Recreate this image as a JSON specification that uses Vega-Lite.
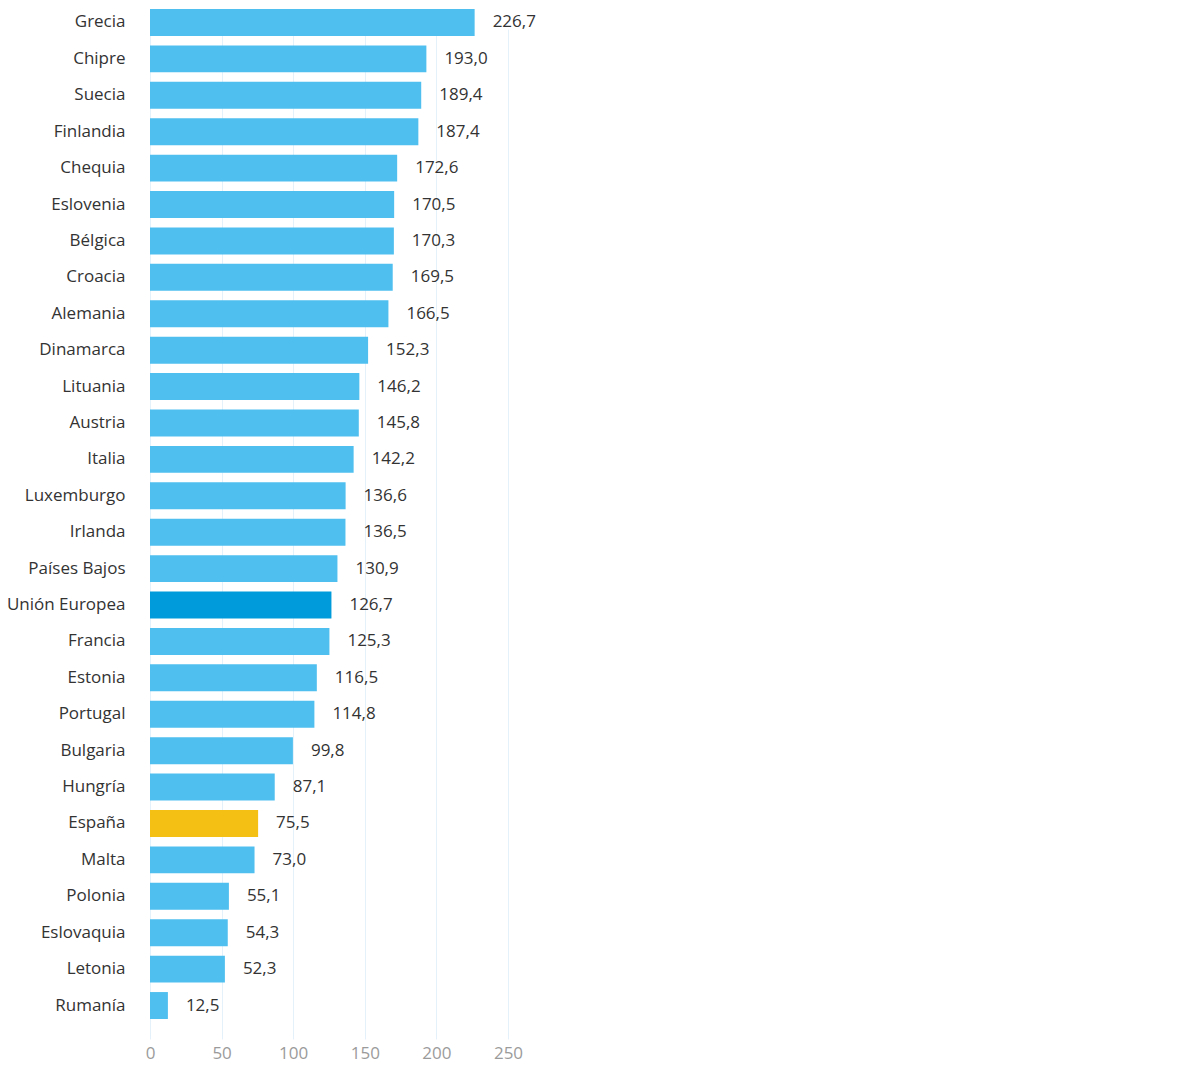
{
  "$schema": "https://vega.github.io/schema/vega-lite/v6.json",
  "width": 358,
  "height": 1030,
  "padding": {"left": 5, "top": 9, "right": 5, "bottom": 5},
  "background": "white",
  "config": {
    "view": {"stroke": null},
    "font": "Open Sans",
    "locale": {"number": {"decimal": ",", "thousands": ".", "grouping": [3], "currency": ["", " €"]}}
  },
  "data": {
    "values": [
      {"pais": "Grecia", "valor": 226.7, "grupo": "pais"},
      {"pais": "Chipre", "valor": 193.0, "grupo": "pais"},
      {"pais": "Suecia", "valor": 189.4, "grupo": "pais"},
      {"pais": "Finlandia", "valor": 187.4, "grupo": "pais"},
      {"pais": "Chequia", "valor": 172.6, "grupo": "pais"},
      {"pais": "Eslovenia", "valor": 170.5, "grupo": "pais"},
      {"pais": "Bélgica", "valor": 170.3, "grupo": "pais"},
      {"pais": "Croacia", "valor": 169.5, "grupo": "pais"},
      {"pais": "Alemania", "valor": 166.5, "grupo": "pais"},
      {"pais": "Dinamarca", "valor": 152.3, "grupo": "pais"},
      {"pais": "Lituania", "valor": 146.2, "grupo": "pais"},
      {"pais": "Austria", "valor": 145.8, "grupo": "pais"},
      {"pais": "Italia", "valor": 142.2, "grupo": "pais"},
      {"pais": "Luxemburgo", "valor": 136.6, "grupo": "pais"},
      {"pais": "Irlanda", "valor": 136.5, "grupo": "pais"},
      {"pais": "Países Bajos", "valor": 130.9, "grupo": "pais"},
      {"pais": "Unión Europea", "valor": 126.7, "grupo": "ue"},
      {"pais": "Francia", "valor": 125.3, "grupo": "pais"},
      {"pais": "Estonia", "valor": 116.5, "grupo": "pais"},
      {"pais": "Portugal", "valor": 114.8, "grupo": "pais"},
      {"pais": "Bulgaria", "valor": 99.8, "grupo": "pais"},
      {"pais": "Hungría", "valor": 87.1, "grupo": "pais"},
      {"pais": "España", "valor": 75.5, "grupo": "es"},
      {"pais": "Malta", "valor": 73.0, "grupo": "pais"},
      {"pais": "Polonia", "valor": 55.1, "grupo": "pais"},
      {"pais": "Eslovaquia", "valor": 54.3, "grupo": "pais"},
      {"pais": "Letonia", "valor": 52.3, "grupo": "pais"},
      {"pais": "Rumanía", "valor": 12.5, "grupo": "pais"}
    ]
  },
  "encoding": {
    "y": {
      "field": "pais",
      "type": "nominal",
      "sort": null,
      "scale": {"range": [0, 1010], "paddingInner": 0.26, "paddingOuter": 0},
      "axis": {
        "title": null,
        "domain": false,
        "ticks": false,
        "grid": false,
        "labelPadding": 25,
        "labelFontSize": 17,
        "labelColor": "#333333",
        "labelFont": "Open Sans",
        "minExtent": 145,
        "maxExtent": 145
      }
    },
    "x": {
      "field": "valor",
      "type": "quantitative",
      "scale": {"domain": [0, 250], "nice": false},
      "axis": {
        "title": null,
        "values": [0, 50, 100, 150, 200, 250],
        "domain": false,
        "ticks": false,
        "grid": true,
        "gridColor": "#e4f1fa",
        "gridWidth": 1,
        "labelFlush": false,
        "labelPadding": 6,
        "labelFontSize": 17,
        "labelColor": "#9b9b9b",
        "labelFont": "Open Sans"
      }
    }
  },
  "layer": [
    {
      "mark": {"type": "bar"},
      "encoding": {
        "color": {
          "field": "grupo",
          "type": "nominal",
          "scale": {"domain": ["pais", "ue", "es"], "range": ["#4fbfef", "#009bdb", "#f4c013"]},
          "legend": null
        }
      }
    },
    {
      "mark": {"type": "text", "align": "left", "baseline": "middle", "dx": 18, "fontSize": 17, "color": "#333333", "font": "Open Sans"},
      "encoding": {
        "text": {"field": "valor", "type": "quantitative", "format": ".1f"}
      }
    }
  ]
}
